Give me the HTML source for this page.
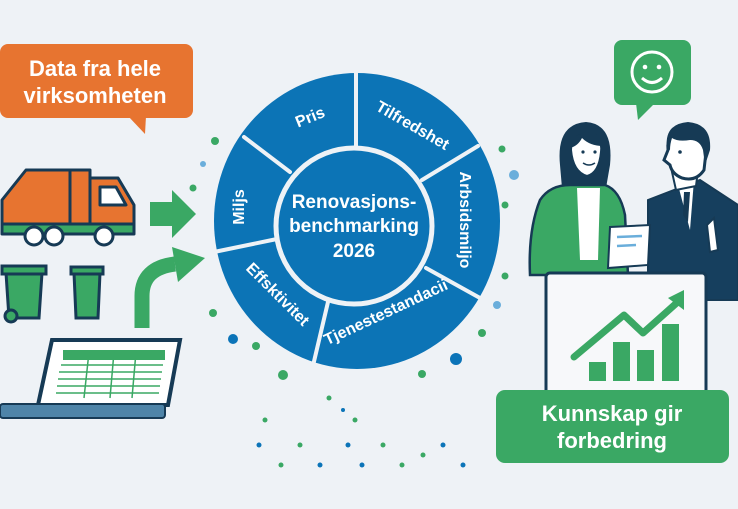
<!DOCTYPE html>
<html><head><meta charset="utf-8"><style>
html,body{margin:0;padding:0;background:#eef2f6;}
svg{display:block;font-family:"Liberation Sans",sans-serif;}
</style></head><body>
<svg width="738" height="509" viewBox="0 0 738 509" xmlns="http://www.w3.org/2000/svg">
<rect width="738" height="509" fill="#eef2f6"/>
<!-- dots -->
<g fill="#3aa864">
<circle cx="215" cy="141" r="4"/><circle cx="193" cy="188" r="3.5"/><circle cx="213" cy="313" r="4"/>
<circle cx="256" cy="346" r="4"/><circle cx="283" cy="375" r="5"/><circle cx="422" cy="374" r="4"/>
<circle cx="482" cy="333" r="4"/><circle cx="502" cy="149" r="3.5"/><circle cx="505" cy="205" r="3.5"/>
<circle cx="505" cy="276" r="3.5"/><circle cx="329" cy="398" r="2.5"/><circle cx="355" cy="420" r="2.5"/>
<circle cx="300" cy="445" r="2.5"/><circle cx="281" cy="465" r="2.5"/><circle cx="383" cy="445" r="2.5"/>
<circle cx="423" cy="455" r="2.5"/><circle cx="402" cy="465" r="2.5"/><circle cx="265" cy="420" r="2.5"/>
</g>
<g fill="#6aaedb">
<circle cx="203" cy="164" r="3"/><circle cx="497" cy="305" r="4"/><circle cx="514" cy="175" r="5"/>
</g>
<g fill="#0b74b8">
<circle cx="233" cy="339" r="5"/><circle cx="456" cy="359" r="6"/><circle cx="259" cy="445" r="2.5"/>
<circle cx="320" cy="465" r="2.5"/><circle cx="348" cy="445" r="2.5"/><circle cx="362" cy="465" r="2.5"/>
<circle cx="443" cy="445" r="2.5"/><circle cx="463" cy="465" r="2.5"/><circle cx="343" cy="410" r="2"/>
</g>
<!-- wheel -->
<ellipse cx="357" cy="221" rx="143" ry="148" fill="#0c74b6"/>
<g stroke="#eef2f6" stroke-width="4" stroke-linecap="round">
<line x1="356" y1="148" x2="356" y2="72"/>
<line x1="422" y1="180" x2="478" y2="146"/>
<line x1="426" y1="268" x2="480" y2="298"/>
<line x1="328" y1="302" x2="312" y2="370"/>
<line x1="277" y1="239" x2="214" y2="252"/>
<line x1="290" y1="172" x2="244" y2="137"/>
</g>
<circle cx="354" cy="226" r="78" fill="#0c74b6" stroke="#eef2f6" stroke-width="5"/>
<g fill="#fff" font-weight="bold" text-anchor="middle">
<text x="354" y="208" font-size="19">Renovasjons-</text>
<text x="354" y="232" font-size="19">benchmarking</text>
<text x="354" y="257" font-size="19">2026</text>
<g font-size="16">
<text transform="translate(312,122) rotate(-22)">Pris</text>
<text transform="translate(410,130) rotate(30)">Tilfredshet</text>
<text transform="translate(460,220) rotate(90)">Arbsidsmiljo</text>
<text transform="translate(388,317) rotate(-25)">Tjenestestandacii</text>
<text transform="translate(274,298) rotate(45)">Effsktivitet</text>
<text transform="translate(244,207) rotate(-90)">Miljs</text>
</g></g>
<!-- orange bubble -->
<rect x="0" y="44" width="193" height="74" rx="8" fill="#e77430"/>
<polygon points="128,116 146,116 145,134" fill="#e77430"/>
<g fill="#fff" font-weight="bold" font-size="22" text-anchor="middle">
<text x="95" y="76">Data fra hele</text><text x="95" y="103">virksomheten</text></g>
<!-- truck -->
<g stroke="#163a55" stroke-width="3" stroke-linejoin="round">
<path d="M2,200 L26,170 L90,170 L90,224 L2,224 Z" fill="#e77430"/>
<path d="M90,178 L118,178 L134,205 L134,224 L90,224 Z" fill="#e77430"/>
<path d="M100,187 L116,187 L126,205 L100,205 Z" fill="#fff"/>
<rect x="2" y="224" width="132" height="10" fill="#3aa864"/>
<circle cx="34" cy="236" r="9" fill="#fff"/><circle cx="54" cy="236" r="9" fill="#fff"/><circle cx="104" cy="236" r="9" fill="#fff"/>
<line x1="70" y1="170" x2="70" y2="224"/>
</g>
<!-- bins -->
<g stroke="#163a55" stroke-width="3" fill="#3aa864">
<path d="M6,273 L42,273 L39,318 L9,318 Z"/><rect x="2" y="266" width="44" height="8"/>
<circle cx="11" cy="316" r="6"/>
<path d="M74,273 L100,273 L98,318 L76,318 Z"/><rect x="71" y="267" width="32" height="7"/>
</g>
<!-- arrows -->
<polygon points="150,202 172,202 172,190 196,214 172,238 172,226 150,226" fill="#3aa864"/>
<path d="M142,328 L142,296 Q142,268 175,264" stroke="#3aa864" stroke-width="15" fill="none"/>
<polygon points="172,247 205,258 178,282" fill="#3aa864"/>
<!-- laptop -->
<path d="M52,340 L180,340 L168,405 L38,405 Z" fill="#fff" stroke="#163a55" stroke-width="4"/>
<rect x="0" y="404" width="165" height="14" rx="3" fill="#4e84a8" stroke="#163a55" stroke-width="2"/>
<rect x="63" y="350" width="102" height="10" fill="#3aa864"/>
<g stroke="#3aa864" stroke-width="1.5">
<line x1="61" y1="365" x2="163" y2="365"/><line x1="59" y1="372" x2="162" y2="372"/><line x1="58" y1="379" x2="161" y2="379"/><line x1="57" y1="386" x2="160" y2="386"/><line x1="56" y1="393" x2="159" y2="393"/>
<line x1="89" y1="352" x2="84" y2="398"/><line x1="114" y1="352" x2="110" y2="398"/><line x1="136" y1="352" x2="132" y2="398"/></g>
<!-- smiley bubble -->
<rect x="614" y="40" width="77" height="65" rx="8" fill="#3aa864"/>
<polygon points="636,103 655,103 638,120" fill="#3aa864"/>
<circle cx="652" cy="72" r="20" fill="none" stroke="#fff" stroke-width="3"/>
<circle cx="645" cy="67" r="2.3" fill="#fff"/><circle cx="659" cy="67" r="2.3" fill="#fff"/>
<path d="M642,78 Q652,87 662,78" stroke="#fff" stroke-width="3" fill="none"/>
<!-- man -->
<path d="M648,200 L700,180 L738,205 L738,300 L648,300 Z" fill="#163f5e" stroke="#163a55" stroke-width="2"/>
<path d="M678,185 L694,180 L690,230 Z" fill="#fff"/><path d="M684,192 L690,192 L688,222 L683,215Z" fill="#163a55"/>
<path d="M672,172 L676,190 L696,186 L698,170 Z" fill="#fff" stroke="#163a55" stroke-width="2"/>
<path d="M668,150 Q666,132 684,130 Q706,130 706,152 L704,170 Q696,182 682,178 Q672,174 670,165 L664,160 Z" fill="#fff" stroke="#163a55" stroke-width="3"/>
<path d="M667,148 Q664,124 688,122 Q712,124 710,150 L705,165 L703,150 Q700,140 690,140 Q678,142 672,138 Q670,144 670,150 Z" fill="#163a55"/>
<circle cx="680" cy="152" r="1.8" fill="#163a55"/>
<path d="M707,225 L714,218 L718,250 L710,252 Z" fill="#fff" stroke="#163a55" stroke-width="2"/>
<!-- woman -->
<path d="M560,165 Q556,124 586,122 Q614,124 610,165 L606,188 L562,188 Z" fill="#163a55"/>
<path d="M571,150 Q571,134 588,134 Q603,136 601,152 Q599,173 587,176 Q573,172 571,150 Z" fill="#fff" stroke="#163a55" stroke-width="2"/>
<path d="M570,148 Q575,132 590,132 Q602,134 603,146 Q590,146 582,138 Q578,146 570,148 Z" fill="#163a55"/>
<circle cx="583" cy="152" r="1.6" fill="#163a55"/><circle cx="595" cy="152" r="1.6" fill="#163a55"/>
<path d="M583,163 Q589,167 595,163" stroke="#163a55" stroke-width="1.5" fill="none"/>
<path d="M540,200 Q550,185 570,185 L605,185 Q620,190 625,215 L628,275 L530,275 Q528,230 540,200 Z" fill="#3aa864" stroke="#163a55" stroke-width="2.5"/>
<path d="M577,188 L600,188 L598,260 L580,260 Z" fill="#fff"/>
<path d="M610,227 L650,225 L648,265 L608,268 Z" fill="#fff" stroke="#163a55" stroke-width="2"/>
<line x1="617" y1="237" x2="642" y2="236" stroke="#6aaedb" stroke-width="2.5"/><line x1="617" y1="246" x2="636" y2="245" stroke="#6aaedb" stroke-width="2.5"/>
<!-- board -->
<rect x="546" y="273" width="160" height="125" rx="4" fill="#f7f8fa" stroke="#163a55" stroke-width="3"/>
<g fill="#3aa864"><rect x="589" y="362" width="17" height="19"/><rect x="613" y="342" width="17" height="39"/><rect x="637" y="350" width="17" height="31"/><rect x="662" y="324" width="17" height="57"/></g>
<path d="M574,357 L624,315 L643,333 L680,300" stroke="#3aa864" stroke-width="7" fill="none" stroke-linejoin="round" stroke-linecap="round"/>
<polygon points="684,290 668,298 684,310" fill="#3aa864"/>
<!-- green label -->
<rect x="496" y="390" width="233" height="73" rx="9" fill="#3aa864"/>
<g fill="#fff" font-weight="bold" font-size="22" text-anchor="middle">
<text x="612" y="421">Kunnskap gir</text><text x="612" y="448">forbedring</text></g>
</svg>
</body></html>
